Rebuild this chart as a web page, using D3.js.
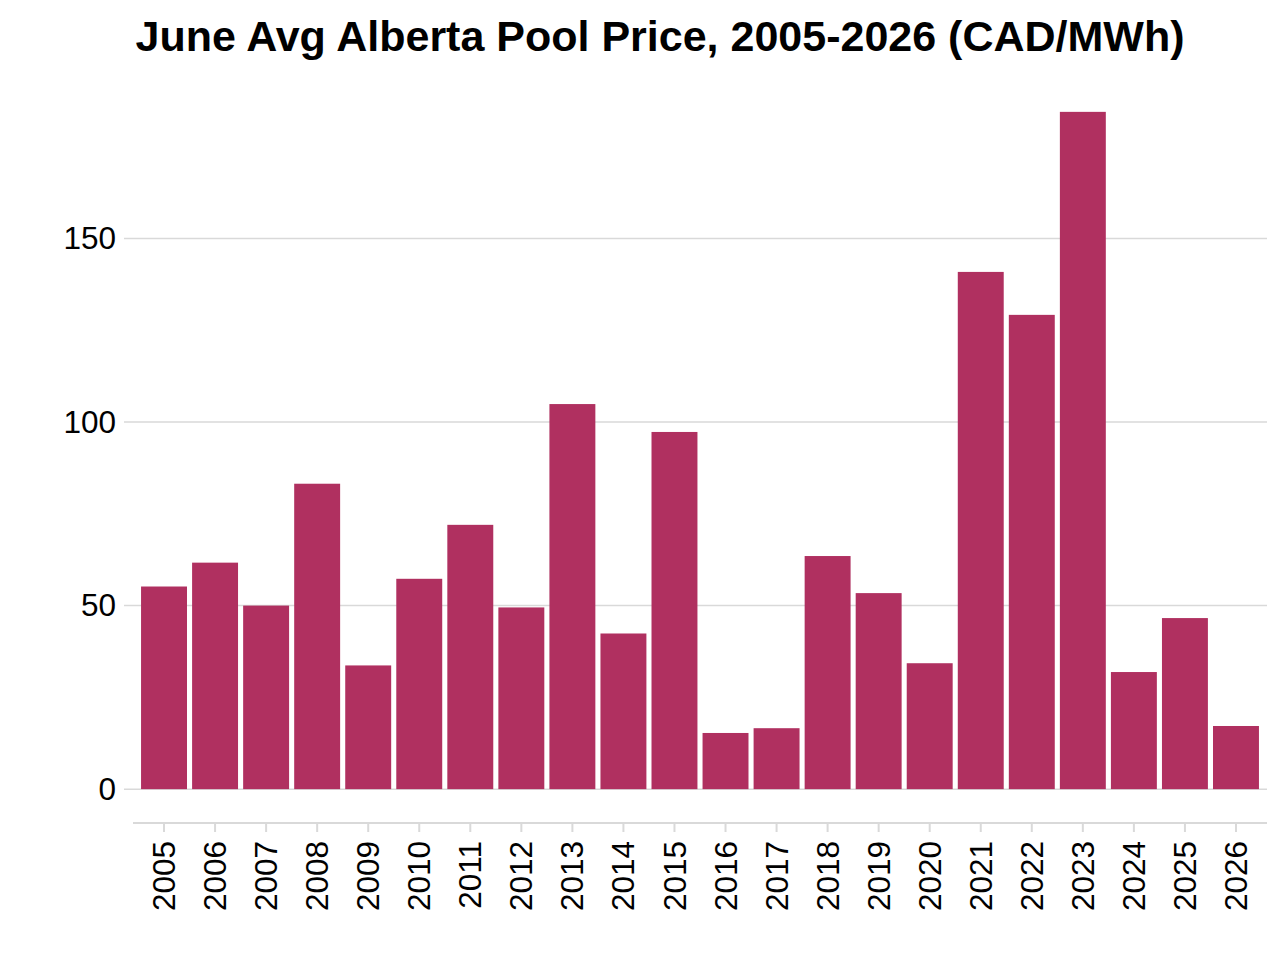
<!DOCTYPE html>
<html>
<head>
<meta charset="utf-8">
<script src="https://cdn.jsdelivr.net/npm/d3@7"></script>
<style>
  html, body { margin: 0; padding: 0; background: #fff; }
  svg { display: block; font-family: "Liberation Sans", Arial, sans-serif; }
</style>
</head>
<body>
<svg id="chart" width="1286" height="976"></svg>
<script>
const years = ["2005","2006","2007","2008","2009","2010","2011","2012","2013","2014","2015",
               "2016","2017","2018","2019","2020","2021","2022","2023","2024","2025","2026"];
const prices = [55.2, 61.7, 50.0, 83.2, 33.7, 57.3, 72.0, 49.5, 104.9, 42.4, 97.3,
                15.3, 16.6, 63.5, 53.4, 34.3, 140.9, 129.2, 184.5, 31.9, 46.6, 17.2];
const yTicks = [0, 50, 100, 150];
const title = "June Avg Alberta Pool Price, 2005-2026 (CAD/MWh)";

const svg = d3.select("#chart");
const W = 1286, H = 976;
const panel = { left: 124, right: 1267, top: 78, bottom: 823 };

const maxV = d3.max(prices);
const pad = maxV * 0.05;
const y = d3.scaleLinear().domain([-pad, maxV + pad]).range([panel.bottom, panel.top]);
const x = d3.scaleBand().domain(years).range([138.5, 1261.5]).paddingInner(0.1).paddingOuter(0.05);

// gridlines
svg.append("g").selectAll("line").data(yTicks).join("line")
  .attr("x1", panel.left).attr("x2", panel.right)
  .attr("y1", d => y(d)).attr("y2", d => y(d))
  .attr("stroke", "#d9d9d9").attr("stroke-width", 1.5);

// bars
svg.append("g").selectAll("rect").data(prices).join("rect")
  .attr("x", (d, i) => x(years[i]))
  .attr("width", x.bandwidth())
  .attr("y", d => y(d))
  .attr("height", d => y(0) - y(d))
  .attr("fill", "#B03060");

// y axis labels
const yAxis = d3.axisLeft(y).tickValues(yTicks).tickSize(0).tickPadding(8);
const gy = svg.append("g").attr("transform", `translate(${panel.left},0)`).call(yAxis);
gy.select(".domain").remove();
gy.selectAll("text").attr("font-size", 31.5).attr("fill", "#000")
  .attr("font-family", "Liberation Sans, Arial, sans-serif");

// x axis
const xAxis = d3.axisBottom(x).tickSize(9).tickPadding(10);
const gx = svg.append("g").attr("transform", `translate(0,${panel.bottom})`).call(xAxis);
gx.select(".domain").attr("d", `M133,0H${panel.right}`).attr("stroke", "#d9d9d9").attr("stroke-width", 2);
gx.selectAll(".tick line").attr("stroke", "#d9d9d9").attr("stroke-width", 2);
gx.selectAll("text")
  .attr("font-size", 31.5).attr("fill", "#000")
  .attr("font-family", "Liberation Sans, Arial, sans-serif")
  .attr("transform", "rotate(-90)")
  .attr("text-anchor", "end")
  .attr("x", -18).attr("y", 0).attr("dy", "0.35em");

// title
svg.append("text")
  .attr("x", 660).attr("y", 51)
  .attr("text-anchor", "middle")
  .attr("font-size", 43).attr("font-weight", "bold").attr("fill", "#000")
  .text(title);
</script>
</body>
</html>
